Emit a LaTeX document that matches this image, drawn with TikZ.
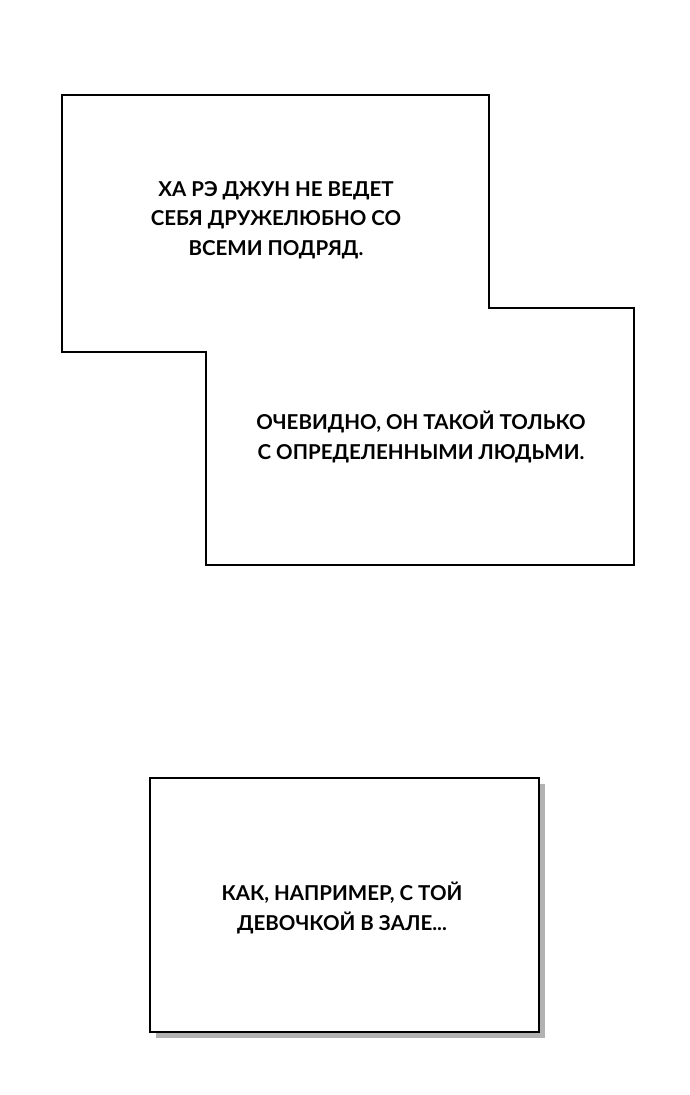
\documentclass[tikz,border=0pt]{standalone}
\usepackage{fontspec}
\setmainfont{Lato}
\begin{document}
\begin{tikzpicture}[x=1pt,y=-1pt,
  box/.style={line width=2.6pt,draw=black,fill=white},
  txt/.style={font=\fontsize{20.5}{29.5}\selectfont\bfseries,align=center,inner sep=0pt}]
\useasboundingbox (0,0) rectangle (690,1095);
\fill[white] (0,0) rectangle (690,1095);
\draw[box] (62,95) -- (489,95) -- (489,308) -- (634,308) -- (634,565) -- (206,565) -- (206,352) -- (62,352) -- cycle;
\node[txt] (t1) at (276,220) {ХА РЭ ДЖУН НЕ ВЕДЕТ\\СЕБЯ ДРУЖЕЛЮБНО СО\\ВСЕМИ ПОДРЯД.};
\node[txt] (t2) at (421,437) {ОЧЕВИДНО, ОН ТАКОЙ ТОЛЬКО\\С ОПРЕДЕЛЕННЫМИ ЛЮДЬМИ.};
\fill[black!30] (156,784) rectangle (545,1038);
\node[box,minimum width=389pt,minimum height=254pt,inner sep=0pt] (b3) at (344.5,905) {};
\node[txt] (t3) at (342,908) {КАК, НАПРИМЕР, С ТОЙ\\ДЕВОЧКОЙ В ЗАЛЕ...};
\end{tikzpicture}
\end{document}
